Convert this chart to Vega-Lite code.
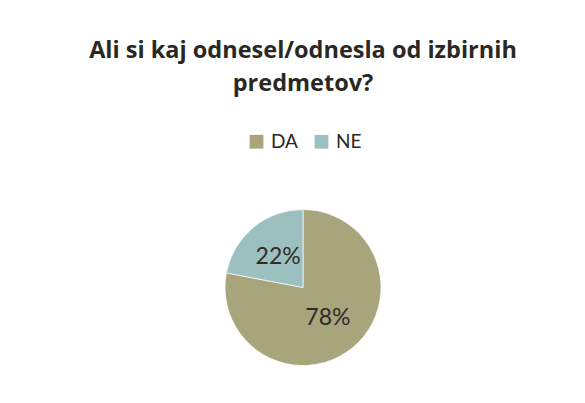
{
  "$schema": "https://vega.github.io/schema/vega-lite/v6.json",
  "width": 156,
  "height": 157,
  "autosize": {"type": "none"},
  "padding": {"left": 225, "top": 209, "right": 204, "bottom": 37},
  "background": "white",
  "view": {"stroke": null},
  "title": {
    "text": ["Ali si kaj odnesel/odnesla od izbirnih", "predmetov?"],
    "font": "Open Sans",
    "fontSize": 23.5,
    "fontWeight": "bold",
    "color": "#2A2823",
    "lineHeight": 33,
    "anchor": "middle",
    "frame": "group",
    "offset": 37
  },
  "data": {
    "values": [
      {"odgovor": "DA", "delez": 78, "oznaka": "78%"},
      {"odgovor": "NE", "delez": 22, "oznaka": "22%"}
    ]
  },
  "encoding": {
    "theta": {"field": "delez", "type": "quantitative", "stack": true},
    "order": {"field": "odgovor"},
    "color": {
      "field": "odgovor",
      "type": "nominal",
      "scale": {"domain": ["DA", "NE"], "range": ["#A8A47C", "#9CC0C0"]},
      "legend": {
        "title": null,
        "orient": "none",
        "direction": "horizontal",
        "legendX": 22,
        "legendY": -77,
        "symbolType": "square",
        "symbolSize": 190,
        "symbolStrokeWidth": 0,
        "labelFont": "Lato",
        "labelFontSize": 19,
        "labelColor": "#2A2823",
        "labelOffset": 5,
        "columnPadding": 14,
        "padding": 0
      }
    }
  },
  "layer": [
    {"mark": {"type": "arc", "outerRadius": 78, "stroke": "white", "strokeWidth": 0.7}},
    {
      "mark": {"type": "text", "radius": 39, "fontSize": 23, "font": "Lato"},
      "encoding": {
        "text": {"field": "oznaka"},
        "color": {"value": "#2E2C27"}
      }
    }
  ]
}
